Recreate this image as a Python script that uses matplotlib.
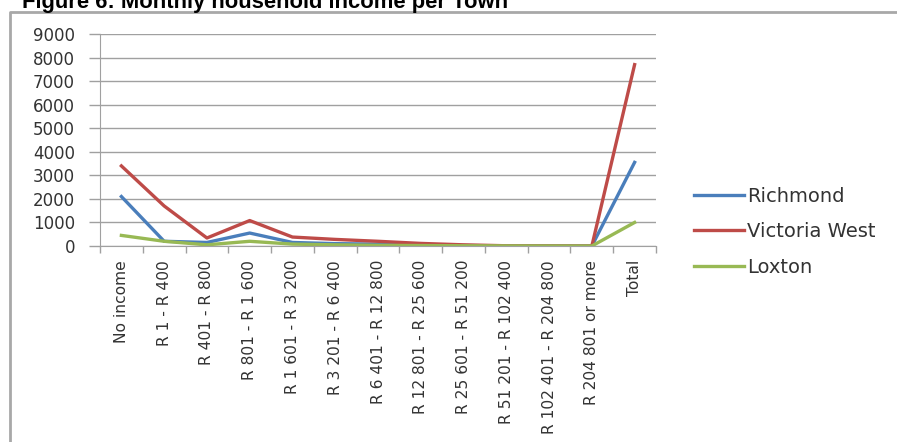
import matplotlib.pyplot as plt
from matplotlib.lines import Line2D

categories = ["No income", "R 1 - R 400", "R 401 - R 800", "R 801 - R 1 600",
              "R 1 601 - R 3 200", "R 3 201 - R 6 400", "R 6 401 - R 12 800",
              "R 12 801 - R 25 600", "R 25 601 - R 51 200", "R 51 201 - R 102 400",
              "R 102 401 - R 204 800", "R 204 801 or more", "Total"]
richmond = [2100, 200, 150, 550, 150, 100, 80, 50, 20, 5, 2, 0, 3550]
victoria_west = [3400, 1700, 340, 1080, 380, 280, 200, 110, 50, 10, 5, 0, 7700]
loxton = [450, 200, 50, 200, 80, 50, 30, 20, 10, 5, 2, 0, 1000]
y_ticks = list(range(0, 9001, 1000))

W, H = 897, 442
fig = plt.figure(figsize=(W / 100, H / 100), dpi=100, facecolor='white')
ax = fig.add_axes([100 / W, 1 - 246 / H, 556 / W, 212 / H])

x = list(range(len(categories)))
ax.plot(x, richmond, color='#4a7ebb', linewidth=2.4, label='Richmond')
ax.plot(x, victoria_west, color='#be4b48', linewidth=2.4, label='Victoria West')
ax.plot(x, loxton, color='#98b954', linewidth=2.4, label='Loxton')

ax.set_xlim(-0.5, len(categories) - 0.5)
ax.set_ylim(0, 9000)
ax.set_yticks(y_ticks)
ax.set_yticklabels([str(v) for v in y_ticks], fontsize=12, color='#333333')
ax.grid(axis='y', color='#a0a0a0', linewidth=1)
ax.set_axisbelow(True)
ax.tick_params(axis='y', length=8, color='#a0a0a0', width=1, pad=10)

ax.set_xticks(x)
ax.set_xticklabels(categories, rotation=90, fontsize=11.2, color='#333333',
                   family='Liberation Sans Narrow')
ax.set_xticks([i - 0.5 for i in range(len(categories) + 1)], minor=True)
ax.tick_params(axis='x', which='major', length=0, pad=10)
ax.tick_params(axis='x', which='minor', length=5, color='#a0a0a0', width=1)

for s in ['top', 'right']:
    ax.spines[s].set_visible(False)
for s in ['left', 'bottom']:
    ax.spines[s].set_color('#a0a0a0')

leg = fig.legend(loc='upper left', bbox_to_anchor=(676 / W, 1 - 169 / H),
                 frameon=False, fontsize=14, handlelength=2.6, handletextpad=0.15,
                 labelspacing=0.85, labelcolor='#333333')

fig.text(22 / W, 1 - 8 / H, "Figure 6: Monthly household income per Town",
         fontsize=15.8, fontweight='bold', family='Liberation Sans', va='baseline')

fig.add_artist(Line2D([10 / W, 10 / W, 1], [0, 1 - 12 / H, 1 - 12 / H],
                      transform=fig.transFigure, color='#a8a8a8', linewidth=2))

plt.savefig('out.png', dpi=100)
